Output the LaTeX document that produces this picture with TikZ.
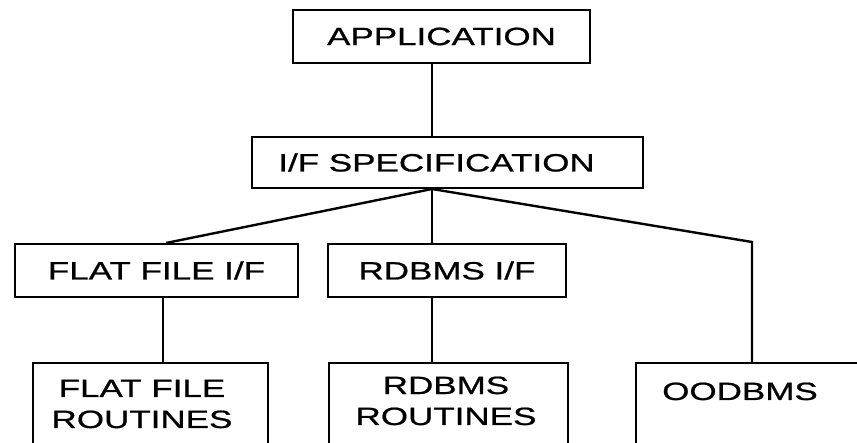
\documentclass[tikz,border=0pt]{standalone}
\usepackage{fontspec}
\setmainfont{Liberation Sans}[FakeStretch=1.4, FakeBold=0.8]
\begin{document}
\begin{tikzpicture}[x=1pt,y=-1pt,
  box/.style={draw, line width=2pt, inner sep=0pt, font=\fontsize{25}{31}\selectfont},
  lbl/.style={inner sep=0pt, align=center, font=\fontsize{25}{31}\selectfont},
  link/.style={line width=2.4pt}]
\useasboundingbox (0,0) rectangle (857,443);
\clip (0,0) rectangle (857,443);

% upper levels
\node[box, minimum width=297pt, minimum height=53pt] (app)  at (441.5,36.5) {APPLICATION};
\node[box, minimum width=391pt, minimum height=51pt] (spec) at (447.5,162.5) {\hspace*{-22pt}I/F SPECIFICATION};
\node[box, minimum width=283pt, minimum height=53pt] (flat) at (156.5,270.5) {FLAT FILE I/F};
\node[box, minimum width=238pt, minimum height=53pt] (rdbi) at (447,270.5) {RDBMS I/F};

% bottom level (runs off the lower edge)
\node[box, anchor=north west, minimum width=235pt, minimum height=110pt] (flatr) at (32,362) {};
\node[box, anchor=north west, minimum width=239pt, minimum height=110pt] (rdbr)  at (328,362) {};
\node[box, anchor=north west, minimum width=250pt, minimum height=110pt] (oodb)  at (635,362) {};
\node[lbl, anchor=base] (flatrt) at (142,428) {FLAT FILE\\ROUTINES};
\node[lbl, anchor=base] (rdbrt)  at (446,425) {RDBMS\\ROUTINES};
\node[lbl, anchor=base west] (oodbt) at (662,400) {OODBMS};

% connector guide points
\coordinate (axis) at (432,0);
\coordinate (fj) at (166,0);
\coordinate (fv) at (163,0);
\coordinate (bend) at (752,242);

\draw[link] (app.south -| axis) -- (spec.north -| axis);
\draw[link] (spec.south -| axis) -- (flat.north -| fj);
\draw[link] (spec.south -| axis) -- (rdbi.north -| axis);
\draw[link] (spec.south -| axis) -- (bend) -- (oodb.north -| bend);
\draw[link] (flat.south -| fv) -- (flatr.north -| fv);
\draw[link] (rdbi.south -| axis) -- (rdbr.north -| axis);
\end{tikzpicture}
\end{document}
